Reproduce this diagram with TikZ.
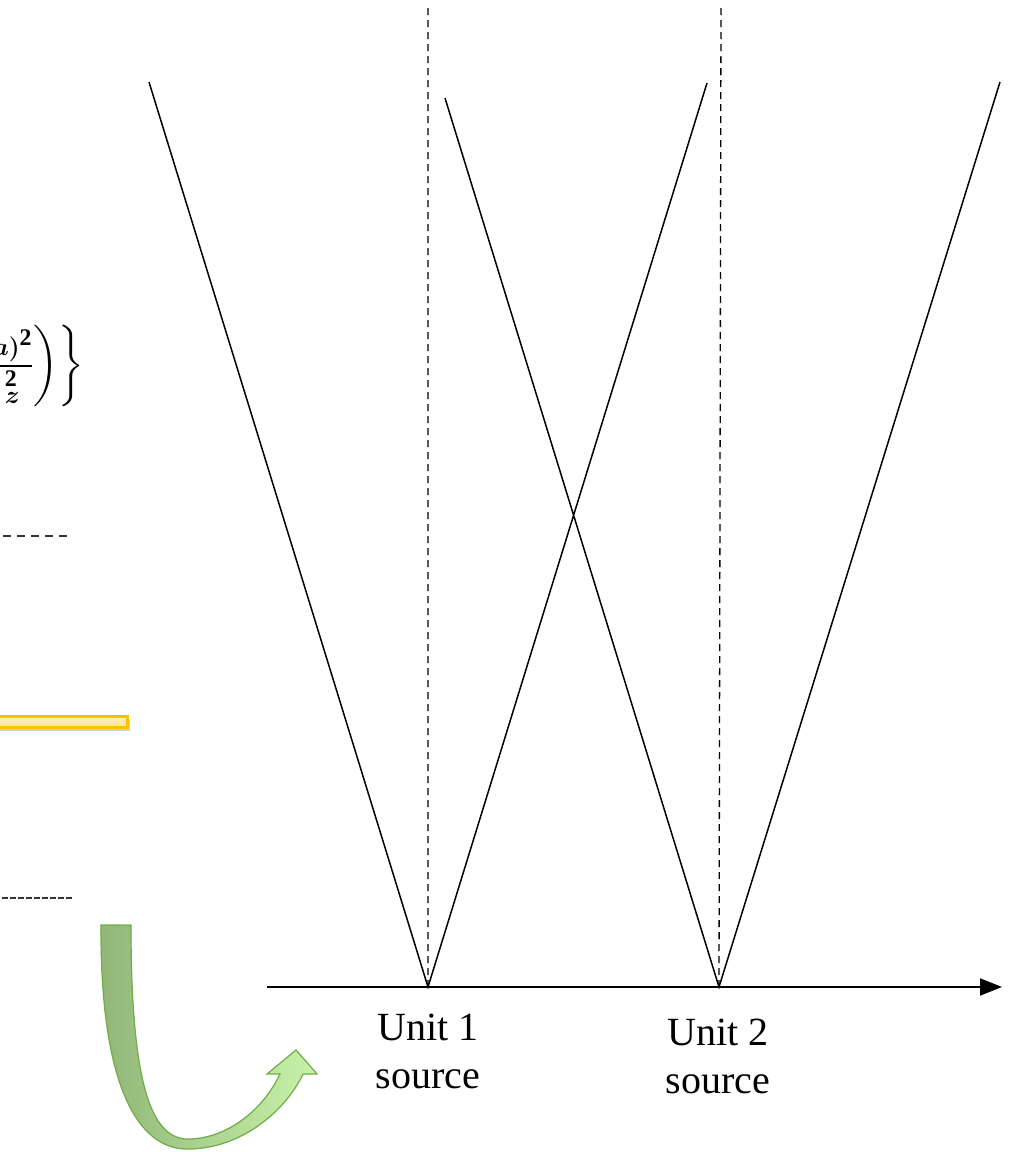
\documentclass[tikz,border=0pt]{standalone}
\usepackage{amsmath,amssymb,bm}
\usepackage{xcolor}
\usepackage{fontspec}
\setmainfont{Liberation Serif}
\usepackage{tikz}
\usetikzlibrary{arrows.meta,shadows}
\definecolor{barEdge}{RGB}{255,192,0}
\definecolor{barFill}{RGB}{255,242,180}
\definecolor{arwEdge}{RGB}{112,173,71}
\definecolor{arwLight}{RGB}{200,242,170}
\definecolor{arwDark}{RGB}{145,182,120}

\begin{document}
\begin{tikzpicture}[x=1pt,y=-1pt,
  beam/.style={line width=1.5pt},
  axisline/.style={dashed,line width=1.3pt,dash pattern=on 7pt off 5pt},
  label/.style={font=\fontsize{40}{48}\selectfont,align=center}]
\useasboundingbox (0,0) rectangle (1018,1152);
% sources and axis
\coordinate (axL) at (267,987);
\coordinate (axR) at (1002,987);
\coordinate (src1) at (428,987);
\coordinate (src2) at (719,987);
\coordinate (top1) at (428,5);
\coordinate (top2) at (721,5);
\draw[line width=2pt,-{Triangle[length=22pt,width=17pt]}](axL)--(axR);
\draw[axisline](src1)--(top1)
(src2|-axL)--(top2);
% beam edges
\coordinate (a1) at (149,82);
\coordinate (b1) at (707,83);
\coordinate (a2) at (445,98);
\coordinate (b2) at (1000,82);
\draw[beam](a1)--(src1)--(b1)
(a2)--(src2)--(b2);
\node[label] (lab1) at (428,1051) {Unit 1\\source};
\node[label] (lab2) at (718,1056) {Unit 2\\source};
% left part
\node[anchor=east,inner sep=0pt] (frm) at (84,366)
{\fontsize{34}{40}\selectfont$\left.\left.\dfrac{\bm{a)}^{\mathbf{2}}}{{}^{\mathbf{2}}_{\bm{z}}}\right)\right\}$};
\draw[line width=2pt,black!80,dash pattern=on 8pt off 6pt](3,536)--(68,536);
\draw[line width=2pt,black!80,dash pattern=on 6pt off 2pt](2,898)--(72,898);
\draw[line width=3pt,draw=barEdge,top color=barFill,bottom color=barEdge!45,
drop shadow={shadow xshift=3pt,shadow yshift=-4pt,opacity=.35}]
(-5,716) rectangle (127,727);
% curved arrow
\draw[draw=arwEdge,line width=1.2pt,left color=arwDark,right color=arwLight]
(101,925) .. controls (100,1090) and (140,1150) .. (188,1149)
.. controls (240,1149) and (285,1112) .. (303,1074)
--(317,1074)--(296,1050)--(267,1074)--(280,1074)
.. controls (262,1112) and (225,1139) .. (188,1139)
.. controls (150,1139) and (131,1080) .. (131,925)--cycle;
\end{tikzpicture}
\end{document}
